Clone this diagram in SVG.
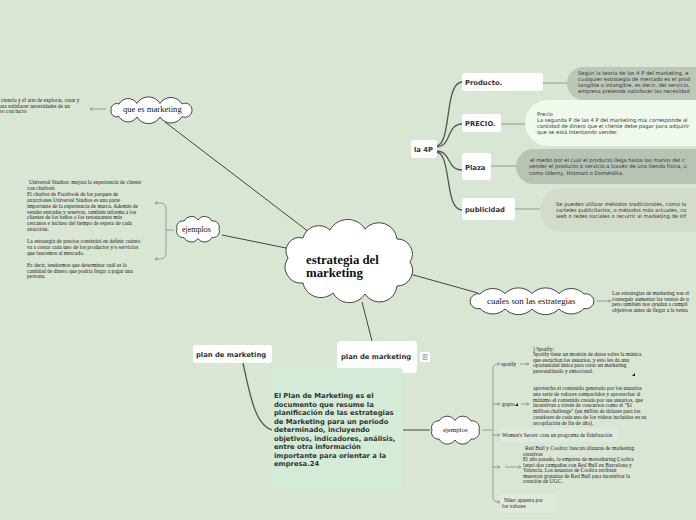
<svg xmlns="http://www.w3.org/2000/svg" width="696" height="520" viewBox="0 0 696 520">
<defs>
<style>
.cloud{fill:#fff;stroke:#444;stroke-width:1}
.box{fill:#fff}
.lbl{font-family:"DejaVu Sans",sans-serif;font-weight:bold;font-size:6.8px;fill:#333}
.st{font-family:"Liberation Serif",serif;font-size:5.5px;fill:#222}
.ss{font-family:"DejaVu Sans",sans-serif;font-size:5.2px;fill:#333}
.cl{font-family:"Liberation Serif",serif;fill:#111}
.ln{stroke:#444;stroke-width:1;fill:none}
.cv{stroke:#555;stroke-width:1.3;fill:none;stroke-linecap:round}
.hz{stroke:#8c9a88;stroke-width:1;fill:none}
.sm{stroke:#888;stroke-width:0.8;fill:none}
</style>
<marker id="arr" viewBox="0 0 6 6" refX="5" refY="3" markerWidth="4" markerHeight="4" orient="auto"><path d="M0,0.5 L5,3 L0,5.5" fill="none" stroke="#777" stroke-width="1"/></marker>
</defs>
<rect width="696" height="520" fill="#dae6d4"/>

<g id="connectors">
<line class="ln" x1="165" y1="122" x2="309" y2="232"/>
<line class="ln" x1="222" y1="235" x2="286" y2="248"/>
<line class="ln" x1="410" y1="274" x2="478" y2="293"/>
<line class="ln" x1="362" y1="302" x2="372" y2="341"/>
<path class="cv" d="M436,146 C452,146 444,82 462,82"/>
<path class="cv" d="M436,147 C452,147 446,124 462,124"/>
<path class="cv" d="M436,151 C452,151 446,170 462,170"/>
<path class="cv" d="M436,152 C452,152 444,210 462,210"/>
<line class="hz" x1="543" y1="83" x2="567" y2="83"/>
<line class="hz" x1="501" y1="124" x2="525" y2="124"/>
<line class="hz" x1="491" y1="166" x2="516" y2="166"/>
<line class="hz" x1="515" y1="209" x2="540" y2="209"/>
<path class="cv" d="M243,363 C250,395 255,425 272,430"/>
<line class="ln" x1="403" y1="430" x2="430" y2="430"/>
<line class="sm" x1="106" y1="109" x2="90" y2="109" marker-end="url(#arr)"/>
<line class="sm" x1="597" y1="301" x2="611" y2="301" marker-end="url(#arr)"/>
<path class="sm" d="M174,230 L166,230"/>
<path class="sm" d="M166,230 L166,209 Q166,203 160,203 L155,203" marker-end="url(#arr)"/>
<path class="sm" d="M166,230 L166,253 Q166,259 160,259 L155,259" marker-end="url(#arr)"/>
<path class="sm" d="M482,430 L493,430"/>
<path class="sm" d="M493,430 L493,369 Q493,364 498,364 L500,364" marker-end="url(#arr)"/>
<path class="sm" d="M493,430 L493,497 Q493,502 498,502 L500,502" marker-end="url(#arr)"/>
<line class="sm" x1="493" y1="404" x2="500" y2="404" marker-end="url(#arr)"/>
<line class="sm" x1="493" y1="435" x2="500" y2="435" marker-end="url(#arr)"/>
<line class="sm" x1="493" y1="467" x2="500" y2="467" marker-end="url(#arr)"/>
<line class="sm" x1="520" y1="364" x2="529" y2="364" marker-end="url(#arr)"/>
<line class="sm" x1="521" y1="404" x2="529" y2="404" marker-end="url(#arr)"/>
<line class="sm" x1="505" y1="467" x2="521" y2="467" marker-end="url(#arr)"/>
</g>

<g id="central">
<path class="cloud" d="M288,258 A13.5,13.5 0 0 1 303,238 A16.4,16.4 0 0 1 330,230 A20.3,20.3 0 0 1 365,229 A18.3,18.3 0 0 1 397,239 A15,15 0 0 1 410,262 A15.5,15.5 0 0 1 397,286 A17.4,17.4 0 0 1 365,294 A18.6,18.6 0 0 1 333,293 A18.3,18.3 0 0 1 303,283 A16,16 0 0 1 288,258 Z"/>
<text class="cl" x="306" y="264" font-size="12.8" font-weight="bold">estrategia del</text>
<text class="cl" x="306" y="277" font-size="12.8" font-weight="bold">marketing</text>
</g>

<g id="que-es">
<path class="cloud" d="M111,110 A5.8,5.8 0 0 1 119,104 A10.4,10.4 0 0 1 137,103.5 A13.3,13.3 0 0 1 160,103.5 A12.8,12.8 0 0 1 182,104 A6.8,6.8 0 0 1 192,110 A6.9,6.9 0 0 1 182,116.5 A12.8,12.8 0 0 1 160,117 A13.3,13.3 0 0 1 137,117 A10.4,10.4 0 0 1 119,116.5 A5.8,5.8 0 0 1 111,110 Z"/>
<text class="cl" x="123" y="112" font-size="8.6">que es marketing</text>
</g>
<g id="que-es-text">
<text class="st" font-size="6.1"><tspan x="1" y="102">ciencia y el arte de explorar, crear y</tspan><tspan x="0" y="107.5">ara satisfacer necesidades de un</tspan><tspan x="0" y="113">ro con lucro</tspan></text>
</g>

<g id="ejemplos1">
<path class="cloud" d="M177,229 A6.2,6.2 0 0 1 184,221 A8.1,8.1 0 0 1 198,220 A8.1,8.1 0 0 1 212,221 A6.2,6.2 0 0 1 219,229 A6.4,6.4 0 0 1 212,237.5 A8.1,8.1 0 0 1 198,238.5 A8.1,8.1 0 0 1 184,237.5 A6.4,6.4 0 0 1 177,229 Z"/>
<text class="cl" x="182" y="232" font-size="8">ejemplos</text>
</g>
<g id="ejemplos1-text">
<text class="st" font-size="5.8"><tspan x="29" y="184">Universal Studios: mejora la experiencia de cliente</tspan><tspan x="27" dy="5.9">con chatbots</tspan><tspan x="27" dy="5.9">El chatbot de Facebook de los parques de</tspan><tspan x="27" dy="5.9">atracciones Universal Studios es una parte</tspan><tspan x="27" dy="5.9">importante de la experiencia de marca. Además de</tspan><tspan x="27" dy="5.9">vender entradas y reservas, también informa a los</tspan><tspan x="27" dy="5.9">clientes de los baños o los restaurantes más</tspan><tspan x="27" dy="5.9">cercanos e incluso del tiempo de espera de cada</tspan><tspan x="27" dy="5.9">atracción.</tspan><tspan x="27" dy="11.8">La estrategia de precios consistirá en definir cuánto</tspan><tspan x="27" dy="5.9">va a costar cada uno de los productos y/o servicios</tspan><tspan x="27" dy="5.9">que lancemos al mercado.</tspan><tspan x="27" dy="11.8">Es decir, tendremos que determinar cuál es la</tspan><tspan x="27" dy="5.9">cantidad de dinero que podría llegar a pagar una</tspan><tspan x="27" dy="5.9">persona.</tspan></text>
</g>

<g id="la4p">
<rect class="box" x="411" y="140" width="26" height="18" rx="3"/>
<text class="lbl" x="414" y="152">la 4P</text>
</g>
<g id="producto">
<rect class="box" x="462" y="73" width="81" height="18" rx="3"/>
<text class="lbl" x="465" y="85">Producto.</text>
</g>
<g id="producto-info">
<rect x="567" y="67" width="160" height="33" rx="16.5" fill="#bcc7b8"/>
<text class="ss"><tspan x="578" y="75">Según la teoría de las 4 P del marketing, e</tspan><tspan x="578" dy="6">cualquier estrategia de mercado es el prod</tspan><tspan x="578" dy="6">tangible o intangible, es decir, del servicio,</tspan><tspan x="578" dy="6">empresa pretende satisfacer las necesidad</tspan></text>
</g>
<g id="precio">
<rect class="box" x="462" y="114" width="39" height="18" rx="3"/>
<text class="lbl" x="465" y="126">PRECIO.</text>
</g>
<g id="precio-info">
<rect x="525" y="100" width="200" height="46" rx="23" fill="#effaed"/>
<text class="ss"><tspan x="537" y="116">Precio</tspan><tspan x="537" dy="6">La segunda P de las 4 P del marketing mix corresponde al</tspan><tspan x="537" dy="6">cantidad de dinero que el cliente debe pagar para adquirir</tspan><tspan x="537" dy="6">que se está intentando vender.</tspan></text>
</g>
<g id="plaza">
<rect class="box" x="462" y="153" width="29" height="27" rx="3"/>
<text class="lbl" x="465" y="170">Plaza</text>
</g>
<g id="plaza-info">
<rect x="516" y="149" width="210" height="35" rx="17.5" fill="#b7c3b4"/>
<text class="ss"><tspan x="530" y="162">el medio por el cual el producto llega hasta las manos del c</tspan><tspan x="529" dy="6.3">vender el producto o servicio a través de una tienda física, u</tspan><tspan x="529" dy="6.3">como Udemy, Hotmart o Doméstika.</tspan></text>
</g>
<g id="publicidad">
<rect class="box" x="462" y="198" width="53" height="22" rx="3"/>
<text class="lbl" x="465" y="212">publicidad</text>
</g>
<g id="publicidad-info">
<rect x="540" y="188" width="190" height="44" rx="22" fill="#d3dbc9"/>
<text class="ss"><tspan x="556" y="206">Se pueden utilizar métodos tradicionales, como la</tspan><tspan x="556" dy="6.2">carteles publicitarios, o métodos más actuales, co</tspan><tspan x="556" dy="6.2">web o redes sociales o recurrir al marketing de inf</tspan></text>
</g>

<g id="cuales">
<path class="cloud" d="M470,301 A8,8 0 0 1 480,294 A17.5,17.5 0 0 1 505,293.5 A19,19 0 0 1 532,293.5 A19,19 0 0 1 559,293.5 A17.5,17.5 0 0 1 584,294 A8,8 0 0 1 594,301 A8,8 0 0 1 584,308.5 A17.5,17.5 0 0 1 559,309 A19,19 0 0 1 532,309 A19,19 0 0 1 505,309 A17.5,17.5 0 0 1 480,308.5 A8,8 0 0 1 470,301 Z"/>
<text class="cl" x="487" y="304" font-size="8.9">cuales son las estrategias</text>
</g>
<g id="cuales-text">
<text class="st" font-size="5.7"><tspan x="612" y="295">Las estrategias de marketing son el</tspan><tspan x="612" dy="5.5">conseguir aumentar las ventas de u</tspan><tspan x="612" dy="5.5">pero también nos ayudan a cumpli</tspan><tspan x="612" dy="5.5">objetivos antes de llegar a la venta</tspan></text>
</g>

<g id="plan-left">
<rect class="box" x="193" y="345" width="79" height="18" rx="3"/>
<text class="lbl" x="196" y="357">plan de marketing</text>
</g>
<g id="plan-mid">
<rect class="box" x="337" y="341" width="80" height="32" rx="4"/>
<text class="lbl" x="341" y="359">plan de marketing</text>
<rect x="420" y="352" width="10" height="10" rx="1.5" fill="#fff"/>
<path d="M422.5,354.8 H427.5 M422.5,357 H427.5 M422.5,359.2 H427.5" stroke="#555" stroke-width="0.7"/>
</g>
<g id="plan-def">
<rect x="272" y="368" width="131" height="123" rx="4" fill="#d4ebd8"/>
<text class="lbl"><tspan x="274" y="398">El Plan de Marketing es el</tspan><tspan x="274" dy="8.5">documento que resume la</tspan><tspan x="274" dy="8.5">planificación de las estrategias</tspan><tspan x="274" dy="8.5">de Marketing para un período</tspan><tspan x="274" dy="8.5">determinado, incluyendo</tspan><tspan x="274" dy="8.5">objetivos, indicadores, análisis,</tspan><tspan x="274" dy="8.5">entre otra información</tspan><tspan x="274" dy="8.5">importante para orientar a la</tspan><tspan x="274" dy="8.5">empresa.24</tspan></text>
</g>

<g id="ejemplos2">
<path class="cloud" d="M432,430 A6.6,6.6 0 0 1 439,421 A9.3,9.3 0 0 1 455,420.5 A9.3,9.3 0 0 1 471,421 A7,7 0 0 1 479,430 A7,7 0 0 1 471,439 A9.3,9.3 0 0 1 455,440 A9.3,9.3 0 0 1 439,439 A6.6,6.6 0 0 1 432,430 Z"/>
<text class="cl" x="443" y="432" font-size="6.8">ejemplos</text>
</g>
<g id="spotify">
<text class="st" x="501" y="366">spotify</text>
<text class="st" font-size="5.2"><tspan x="533" y="350.5">) Spotify:</tspan><tspan x="533" dy="5.6">Spotify tiene un montón de datos sobre la música</tspan><tspan x="533" dy="5.6">que escuchan los usuarios, y esto les da una</tspan><tspan x="533" dy="5.6">oportunidad única para crear un marketing</tspan><tspan x="533" dy="5.6">personalizado y emocional.</tspan></text>
<path d="M635,373 L635,376 L632,376 Z" fill="#111"/>
</g>
<g id="gopro">
<text class="st" x="502" y="406">gopro</text>
<path d="M518,403 L518,406 L515,406 Z" fill="#111"/>
<text class="st"><tspan x="533" y="390">aprovecha el contenido generado por los usuarios</tspan><tspan x="533" dy="5.8">una serie de valores compartidos y aprovechar al</tspan><tspan x="533" dy="5.8">máximo el contenido creado por sus usuarios, que</tspan><tspan x="533" dy="5.8">incentivan a través de concursos como el "$1</tspan><tspan x="533" dy="5.8">million challenge" (un millón de dólares para los</tspan><tspan x="533" dy="5.8">creadores de cada uno de los videos incluidos en su</tspan><tspan x="533" dy="5.8">recopilación de fin de año).</tspan></text>
</g>
<g id="womens">
<rect x="500" y="428" width="118" height="14" rx="3" fill="#e0eadc"/>
<text class="st" x="502" y="437">Women's Secret: crea un programa de fidelización</text>
</g>
<g id="redbull">
<text class="st"><tspan x="525" y="450">Red Bull y Cooltra: buscan alianzas de marketing</tspan><tspan x="523" dy="5.5">creativas</tspan><tspan x="523" dy="5.5">El año pasado, la empresa de motosharing Cooltra</tspan><tspan x="523" dy="5.5">lanzó dos campañas con Red Bull en Barcelona y</tspan><tspan x="523" dy="5.5">Valencia. Los usuarios de Cooltra recibían</tspan><tspan x="523" dy="5.5">muestras gratuitas de Red Bull para incentivar la</tspan><tspan x="523" dy="5.5">creación de UGC.</tspan></text>
</g>
<g id="nike">
<rect x="500" y="494" width="55" height="19" rx="3" fill="#e0eadc"/>
<text class="st"><tspan x="504" y="502">Nike: apuesta por</tspan><tspan x="502" dy="6">los valores</tspan></text>
</g>
</svg>
